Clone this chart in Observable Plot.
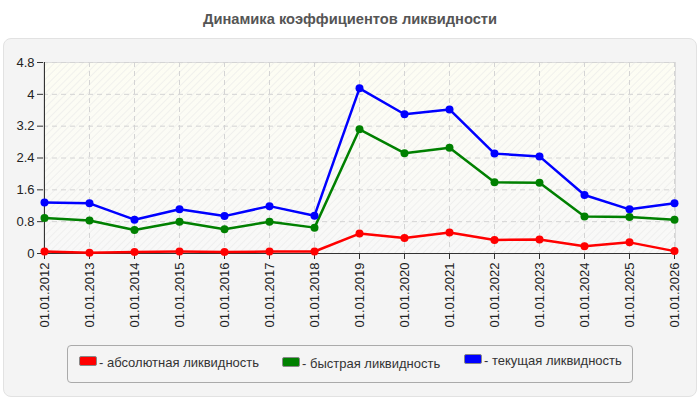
<!DOCTYPE html>
<html><head><meta charset="utf-8">
<script src="https://cdn.jsdelivr.net/npm/d3@7"></script>
<script src="https://cdn.jsdelivr.net/npm/@observablehq/plot@0.6"></script>
<style>
body{margin:0;background:#fff;font-family:"Liberation Sans",Arial,sans-serif;}
#wrap{position:relative;width:700px;height:400px;overflow:hidden;}
#title{position:absolute;left:0;top:11px;width:700px;text-align:center;font-weight:bold;font-size:14.7px;color:#555;}
#panel{position:absolute;left:3px;top:38px;width:692px;height:357px;background:#f4f4f4;border:1px solid #e2e2e2;border-radius:8px;}
#chart{position:absolute;left:0;top:38px;}
#legend{position:absolute;left:67px;top:345px;width:564px;height:36px;border:1px solid #aaa;border-radius:4px;background:#f4f4f4;}
.item{position:absolute;font-size:13px;color:#333;white-space:nowrap;line-height:14px;}
.sw{display:inline-block;width:16px;height:8px;border-radius:2px;border:1px solid #888;margin-right:2px;vertical-align:1px;}
</style></head>
<body>
<div id="wrap">
  <div id="title">Динамика коэффициентов ликвидности</div>
  <div id="panel"></div>
  <div id="chart"></div>
  <div id="legend"></div>
</div>
<script>
const dates = ["01.01.2012","01.01.2013","01.01.2014","01.01.2015","01.01.2016","01.01.2017","01.01.2018","01.01.2019","01.01.2020","01.01.2021","01.01.2022","01.01.2023","01.01.2024","01.01.2025","01.01.2026"];
const absolute = [0.05,0.02,0.04,0.05,0.04,0.05,0.05,0.50,0.39,0.53,0.34,0.35,0.18,0.28,0.06];
const quick    = [0.89,0.83,0.59,0.80,0.61,0.80,0.65,3.12,2.52,2.66,1.79,1.78,0.93,0.92,0.85];
const current  = [1.28,1.26,0.85,1.11,0.94,1.19,0.95,4.15,3.50,3.62,2.51,2.44,1.47,1.11,1.26];
const seriesNames = ["абсолютная ликвидность","быстрая ликвидность","текущая ликвидность"];
const seriesColors = ["#ff0000","#008000","#0000ff"];
const yTicks = [0,0.8,1.6,2.4,3.2,4,4.8];

const data = [];
[absolute, quick, current].forEach((arr, si) => arr.forEach((v, i) => data.push({date: dates[i], value: v, series: seriesNames[si]})));

const chart = Plot.plot({
  width: 700, height: 300,
  marginLeft: 43, marginRight: 25, marginTop: 24, marginBottom: 85,
  style: {background: "transparent", fontSize: "13px", fontFamily: "Liberation Sans, Arial, sans-serif", color: "#222"},
  x: {type: "point", domain: dates, padding: 0},
  y: {domain: [0, 4.8]},
  color: {domain: seriesNames, range: seriesColors},
  marks: [
    Plot.frame({fill: "url(#bggrad)", stroke: "none"}),
    Plot.frame({fill: "url(#hatch)", stroke: "#dcdcdc"}),
    Plot.gridX(dates, {stroke: "#d4d4d4", strokeOpacity: 1, strokeDasharray: "5,4"}),
    Plot.gridY(yTicks, {stroke: "#d4d4d4", strokeOpacity: 1, strokeDasharray: "5,4"}),
    Plot.axisY(yTicks, {tickFormat: d => String(d), tickSize: 6, tickPadding: 3, stroke: "#333", label: null}),
    Plot.axisX(dates, {tickRotate: -90, tickSize: 6, tickPadding: 3, stroke: "#333", label: null}),
    Plot.ruleY([0], {stroke: "#333"}),
    Plot.ruleX([dates[0]], {stroke: "#333"}),
    Plot.line(data, {x: "date", y: "value", z: "series", stroke: "series", strokeWidth: 2.5}),
    Plot.dot(data, {x: "date", y: "value", fill: "series", r: 4})
  ]
});
const ns = "http://www.w3.org/2000/svg";
const defs = document.createElementNS(ns, "defs");
defs.innerHTML = '<linearGradient id="bggrad" x1="0" y1="0" x2="0" y2="1"><stop offset="0" stop-color="#fdfdf3"/><stop offset="0.5" stop-color="#fbfbf6"/><stop offset="1" stop-color="#f8f8f8"/></linearGradient>' +
  '<pattern id="hatch" width="5" height="5" patternUnits="userSpaceOnUse" patternTransform="rotate(45)"><line x1="0" y1="0" x2="0" y2="5" stroke="#e6e6e6" stroke-opacity="0.7" stroke-width="1.5"/></pattern>';
chart.insertBefore(defs, chart.firstChild);
document.getElementById("chart").appendChild(chart);

const legend = document.getElementById("legend");
const lx = [11, 214, 396];
const ly = [10, 11, 8];
seriesNames.forEach((n, i) => {
  const it = document.createElement("div");
  it.className = "item";
  it.style.left = lx[i] + "px";
  it.style.top = ly[i] + "px";
  it.innerHTML = `<span class="sw" style="background:${seriesColors[i]}"></span>- ${n}`;
  legend.appendChild(it);
});
</script>
</body></html>
